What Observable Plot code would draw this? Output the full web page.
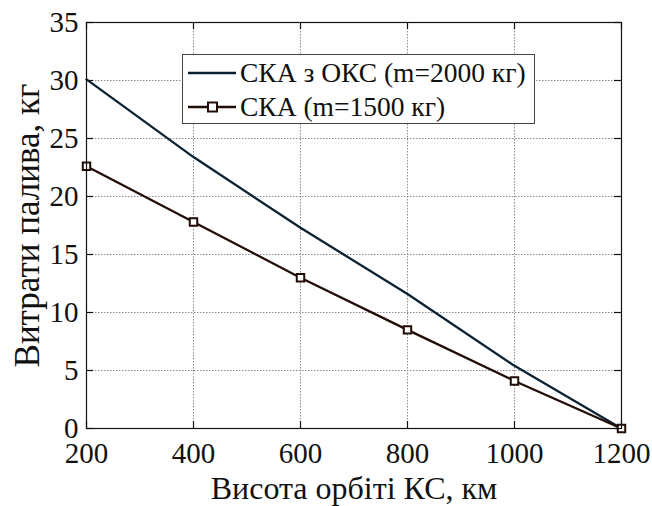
<!DOCTYPE html>
<html>
<head>
<meta charset="utf-8">
<script src="https://cdn.jsdelivr.net/npm/d3@7"></script>
<script src="https://cdn.jsdelivr.net/npm/@observablehq/plot@0.6"></script>
<style>
  body { margin: 0; background: #fff; }
  #wrap { position: relative; width: 652px; height: 506px; font-family: "Liberation Serif", "DejaVu Serif", serif; }
  #legend { position: absolute; left: 182px; top: 54px; width: 351px; height: 68px; border: 1px solid #444; background: #fff; font-size: 27.5px; color: #111; }
  #legend .row { position: absolute; left: 5px; height: 32px; display: flex; align-items: center; white-space: nowrap; line-height: 1; }
  #legend svg { margin-right: 4px; display: block; }
</style>
</head>
<body>
<div id="wrap"></div>
<script>
const heights = [200, 400, 600, 800, 1000, 1200];
const seriesOKS = [30.1, 23.4, 17.3, 11.6, 5.4, 0];
const seriesSKA = [22.6, 17.8, 13.0, 8.5, 4.1, 0];
const seriesNames = ["СКА з ОКС (m=2000 кг)", "СКА (m=1500 кг)"];
const xTicks = [200, 400, 600, 800, 1000, 1200];
const yTicks = [0, 5, 10, 15, 20, 25, 30, 35];
const xLabel = "Висота орбіті КС, км";
const yLabel = "Витрати палива, кг";
const colors = ["#0b2232", "#220d06"];

const dataOKS = heights.map((h, i) => ({h, v: seriesOKS[i]}));
const dataSKA = heights.map((h, i) => ({h, v: seriesSKA[i]}));

const W = 652, H = 506, ML = 86, MR = 31, MT = 22, MB = 78;
const plotW = W - ML - MR, plotH = H - MT - MB, tick = 7;

const chart = Plot.plot({
  width: W,
  height: H,
  marginLeft: ML,
  marginRight: MR,
  marginTop: MT,
  marginBottom: MB,
  style: {fontFamily: "Liberation Serif", fontSize: "28px", color: "#111", background: "#fff"},
  x: {domain: [200, 1200]},
  y: {domain: [0, 35]},
  marks: [
    Plot.ruleX(xTicks, {x: d => d, stroke: "#8c8c8c", strokeWidth: 1, strokeDasharray: "1.5,1.5"}),
    Plot.ruleY(yTicks, {y: d => d, stroke: "#8c8c8c", strokeWidth: 1, strokeDasharray: "1.5,1.5"}),
    Plot.axisX(xTicks, {anchor: "bottom", tickSize: 0, tickPadding: 14, tickFormat: d => String(d), label: null, fill: "#111", fontSize: 29}),
    Plot.axisY(yTicks, {anchor: "left", tickSize: 0, tickPadding: 8, tickFormat: d => String(d), label: null, fill: "#111", fontSize: 29}),
    Plot.tickX(xTicks, {x: d => d, insetTop: plotH - tick, stroke: "#111", strokeWidth: 1.2}),
    Plot.tickX(xTicks, {x: d => d, insetBottom: plotH - tick, stroke: "#111", strokeWidth: 1.2}),
    Plot.tickY(yTicks, {y: d => d, insetRight: plotW - tick, stroke: "#111", strokeWidth: 1.2}),
    Plot.tickY(yTicks, {y: d => d, insetLeft: plotW - tick, stroke: "#111", strokeWidth: 1.2}),
    Plot.text([xLabel], {frameAnchor: "bottom", dy: 70, lineAnchor: "bottom", textAnchor: "middle", text: d => d, fontSize: 32, fill: "#111"}),
    Plot.text([yLabel], {frameAnchor: "left", dx: -59, rotate: -90, textAnchor: "middle", text: d => d, fontSize: 35, fill: "#111"}),
    Plot.line(dataOKS, {x: "h", y: "v", stroke: colors[0], strokeWidth: 2.3}),
    Plot.line(dataSKA, {x: "h", y: "v", stroke: colors[1], strokeWidth: 2.3}),
    Plot.dot(dataSKA, {x: "h", y: "v", symbol: "square", r: 4.2, stroke: colors[1], strokeWidth: 2, fill: "#fff"}),
    Plot.frame({stroke: "#111", strokeWidth: 1.2})
  ]
});

const wrap = document.getElementById("wrap");
wrap.appendChild(chart);

// legend
const legend = document.createElement("div");
legend.id = "legend";
const rowTops = [2, 36];
seriesNames.forEach((name, i) => {
  const row = document.createElement("div");
  row.className = "row";
  row.style.top = rowTops[i] + "px";
  const marker = i === 1 ? `<rect x="20" y="3.5" width="9" height="9" fill="#fff" stroke="${colors[i]}" stroke-width="2"/>` : "";
  row.innerHTML = `<svg width="48" height="16"><line x1="0" y1="8" x2="48" y2="8" stroke="${colors[i]}" stroke-width="2.3"/>${marker}</svg><span>${name}</span>`;
  legend.appendChild(row);
});
wrap.appendChild(legend);
</script>
</body>
</html>
